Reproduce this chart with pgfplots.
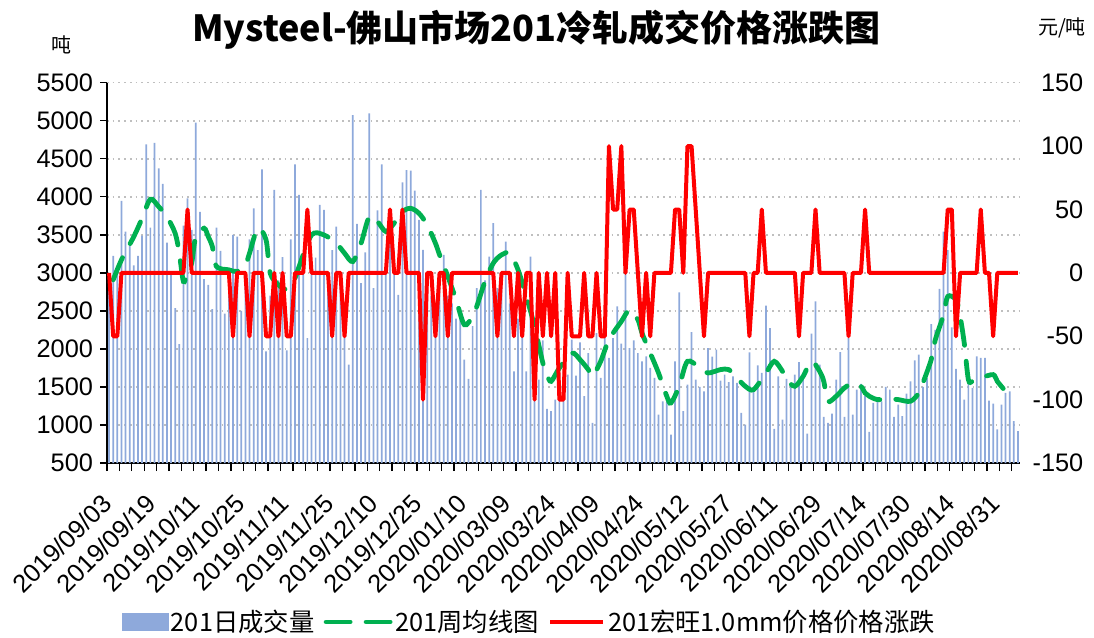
\documentclass[border=0pt]{standalone}
\usepackage{fontspec}
\setmainfont{Liberation Sans}
\newfontfamily\cjk{Noto Sans CJK SC}
\usepackage{pgfplots}
\usepackage{pgfplotstable}
\pgfplotsset{compat=1.18}
\definecolor{barblue}{RGB}{142,169,219}
\definecolor{avggreen}{RGB}{0,176,80}
\definecolor{gridgray}{RGB}{191,191,191}

\pgfplotstableread[row sep=\\]{v\\
2900\\3224\\3000\\3946\\3543\\3355\\3100\\3224\\3490\\4690\\
3596\\4711\\4374\\4169\\3399\\3000\\2537\\2064\\3622\\3981\\
3565\\4974\\3801\\2917\\2843\\2524\\3596\\3289\\2463\\2800\\
3499\\3477\\2502\\3000\\3442\\3849\\3300\\4361\\1968\\2700\\
4090\\2900\\3206\\1981\\3442\\4427\\4024\\3100\\2143\\3000\\
3200\\3893\\3828\\3000\\3300\\3609\\2900\\2600\\1793\\5074\\
3644\\2865\\3270\\5096\\2799\\3821\\4427\\3000\\3828\\3300\\
2712\\4190\\4352\\4344\\4081\\3696\\3303\\2900\\2700\\2500\\
2800\\3237\\2700\\2600\\2400\\2506\\1859\\1605\\2300\\2800\\
4090\\2900\\3215\\3653\\2800\\3000\\3412\\2600\\1706\\2400\\
2300\\1706\\3215\\2200\\1597\\2112\\1211\\1181\\1334\\1815\\
1700\\1662\\2121\\1649\\2086\\1378\\1946\\1028\\2209\\1618\\
2406\\1881\\2143\\2559\\2069\\2996\\2012\\2112\\1946\\1837\\
1903\\1750\\1618\\1137\\1312\\1300\\874\\1837\\2743\\1181\\
1531\\2222\\1597\\1500\\1443\\2012\\1900\\1990\\1583\\1662\\
1562\\1640\\1553\\1159\\1006\\1955\\1465\\1784\\1684\\2568\\
2274\\949\\1640\\1071\\1605\\1553\\1662\\1828\\1640\\887\\
2200\\2624\\1793\\1106\\1028\\1150\\1597\\1959\\1106\\2143\\
1137\\1465\\1539\\1378\\909\\1290\\1312\\1312\\1500\\1465\\
1106\\1268\\1115\\1412\\1575\\1850\\1924\\1500\\1618\\2327\\
2252\\2790\\3543\\3300\\2283\\1737\\1597\\1334\\1737\\1487\\
1903\\1881\\1881\\1321\\1281\\941\\1268\\1421\\1443\\1050\\
918\\
}\bartab

\pgfplotstableread[row sep=\\]{v\\
0\\-50\\-50\\0\\0\\0\\0\\0\\0\\0\\
0\\0\\0\\0\\0\\0\\0\\0\\0\\50\\
0\\0\\0\\0\\0\\0\\0\\0\\0\\0\\
-50\\0\\0\\0\\-50\\0\\0\\0\\-50\\-50\\
0\\-50\\0\\-50\\-50\\0\\0\\0\\50\\0\\
0\\0\\0\\0\\-50\\0\\0\\-50\\0\\0\\
0\\0\\0\\0\\0\\0\\0\\0\\50\\0\\
0\\50\\0\\0\\0\\0\\-100\\0\\0\\-50\\
0\\0\\-50\\0\\0\\0\\0\\0\\0\\0\\
0\\0\\0\\0\\-50\\0\\0\\0\\-50\\0\\
-50\\0\\0\\-100\\0\\-50\\0\\-50\\0\\-100\\
-100\\0\\-50\\-50\\-50\\0\\-50\\-50\\0\\-50\\
-50\\100\\50\\50\\100\\0\\50\\50\\0\\-50\\
0\\-50\\0\\0\\0\\0\\0\\50\\50\\0\\
100\\100\\50\\0\\-50\\0\\0\\0\\0\\0\\
0\\0\\0\\0\\0\\-50\\0\\0\\50\\0\\
0\\0\\0\\0\\0\\0\\0\\-50\\0\\0\\
0\\50\\0\\0\\0\\0\\0\\0\\0\\-50\\
0\\0\\0\\50\\0\\0\\0\\0\\0\\0\\
0\\0\\0\\0\\0\\0\\0\\0\\0\\0\\
0\\0\\0\\50\\50\\-50\\0\\0\\0\\0\\
0\\50\\0\\0\\-50\\0\\0\\0\\0\\0\\
0\\
}\redtab

\pgfplotstableread[row sep=\\]{x y\\
1 2909\\3 3171\\6 3478\\8 3718\\10 3968\\12 3871\\14 3740\\16 3521\\17 3259\\18 2887\\
19 3000\\20 3128\\21 3478\\23 3587\\24 3478\\25 3346\\26 3084\\29 3040\\31 3018\\33 3106\\
34 3259\\36 3587\\38 3434\\39 2996\\41 2843\\43 2786\\45 2931\\46 3084\\49 3499\\52 3499\\
55 3390\\57 3259\\59 3149\\61 3390\\63 3740\\65 3674\\67 3543\\69 3653\\71 3806\\73 3849\\
75 3784\\77 3631\\79 3390\\80 3237\\82 2953\\84 2646\\86 2318\\88 2428\\89 2559\\91 2887\\
93 3128\\95 3237\\97 3259\\99 3040\\101 2690\\103 2296\\105 1815\\106 1662\\107 1574\\109 1750\\
112 1946\\114 1859\\116 1728\\117 1640\\119 1837\\121 2121\\124 2362\\126 2515\\128 2384\\129 2209\\
131 1946\\133 1684\\135 1378\\136 1290\\138 1509\\140 1837\\143 1749\\145 1684\\148 1728\\150 1728\\
152 1618\\154 1509\\156 1465\\159 1684\\161 1837\\163 1706\\164 1597\\166 1509\\168 1640\\170 1837\\
172 1706\\173 1574\\174 1312\\176 1378\\178 1487\\180 1553\\182 1509\\183 1421\\184 1378\\186 1334\\
189 1342\\191 1334\\194 1312\\196 1421\\197 1553\\199 1859\\200 2121\\202 2449\\203 2690\\205 2646\\
206 2428\\207 2078\\208 1597\\209 1574\\211 1618\\214 1662\\215 1574\\217 1443\\
}\greentab

\begin{document}
\begin{tikzpicture}
\useasboundingbox (-80.25pt,-130.5pt) rectangle (740.25pt,347.25pt);
\begin{axis}[
  at={(0pt,0pt)}, anchor=south west,
  scale only axis, width=684.75pt, height=285.2pt,
  xmin=-0.5, xmax=220.5, ymin=500, ymax=5500,
  axis x line*=bottom, axis y line*=left,
  axis line style={-, black, line width=1.1pt},
  tick align=outside,
  major tick length=5pt,
  minor tick length=6pt,
  xtick={0,10.75,...,215},
  xticklabels={2019/09/03,2019/09/19,2019/10/11,2019/10/25,2019/11/11,2019/11/25,2019/12/10,2019/12/25,2020/01/10,2020/03/09,2020/03/24,2020/04/09,2020/04/24,2020/05/12,2020/05/27,2020/06/11,2020/06/29,2020/07/14,2020/07/30,2020/08/14,2020/08/31},
  minor xtick={-0.5,2.5,...,218.5},
  xtick style={/pgfplots/major tick length=0pt, black, line width=1pt},
  minor tick style={black, line width=1pt},
  ytick style={black, line width=1pt},
  xticklabel style={yshift=-21pt, xshift=-1pt, rotate=45, anchor=east, inner sep=1pt, font=\fontsize{19}{19}\selectfont},
  ytick={500,1000,...,5500},
  yticklabel style={font=\fontsize{19}{19}\selectfont, xshift=-2pt},
  /pgf/number format/1000 sep={},
  /pgf/number format/assume math mode=true,
  ymajorgrids,
  grid style={gridgray, line width=1.1pt, dash pattern=on 1.3pt off 3pt},
  clip=true,
]
\addplot[ybar, bar width=1.3pt, fill=barblue, draw=none] table[x expr=\coordindex, y=v]{\bartab};
\addplot[avggreen, line width=3.6pt, dash pattern=on 18pt off 12pt, line cap=round, smooth, tension=0.5] table[x=x, y=y]{\greentab};
\end{axis}
\begin{axis}[
  at={(0pt,0pt)}, anchor=south west,
  scale only axis, width=684.75pt, height=285.2pt,
  xmin=-0.5, xmax=220.5, ymin=-150, ymax=150,
  hide x axis,
  axis y line*=right,
  axis line style={draw=none},
  ytick={-150,-100,...,150},
  major tick length=0pt,
  yticklabel style={font=\fontsize{19}{19}\selectfont, anchor=east, xshift=51pt},
  /pgf/number format/assume math mode=true,
  legend style={at={(0.4633,-0.418)}, anchor=center, draw=none, fill=none,
     legend columns=3, font=\cjk\fontsize{19}{19}\selectfont,
     /tikz/every even column/.append style={column sep=5pt}},
  legend cell align=left,
]
\addlegendimage{legend image code/.code={\fill[barblue] (0pt,-6.4pt) rectangle (34pt,6.4pt);}}
\addlegendentry{201日成交量}
\addlegendimage{legend image code/.code={\draw[avggreen, line width=3.6pt, dash pattern=on 18pt off 12pt, line cap=round] (2pt,0pt) -- (50pt,0pt);}}
\addlegendentry{201周均线图}
\addplot[red, line width=3pt, line join=round, legend image code/.code={\draw[red, line width=3pt] (0pt,0pt) -- (40pt,0pt);}] table[x expr=\coordindex, y=v]{\redtab};
\addlegendentry{201宏旺1.0mm价格价格涨跌}
\end{axis}
\node[font=\cjk\bfseries\fontsize{27}{30}\selectfont] at (322.1pt,324.75pt) {Mysteel-佛山市场201冷轧成交价格涨跌图};
\node[font=\cjk\fontsize{15}{15}\selectfont] at (-33.75pt,313.5pt) {吨};
\node[font=\cjk\fontsize{15}{15}\selectfont] at (716.25pt,326.25pt) {元/吨};
\end{tikzpicture}
\end{document}
